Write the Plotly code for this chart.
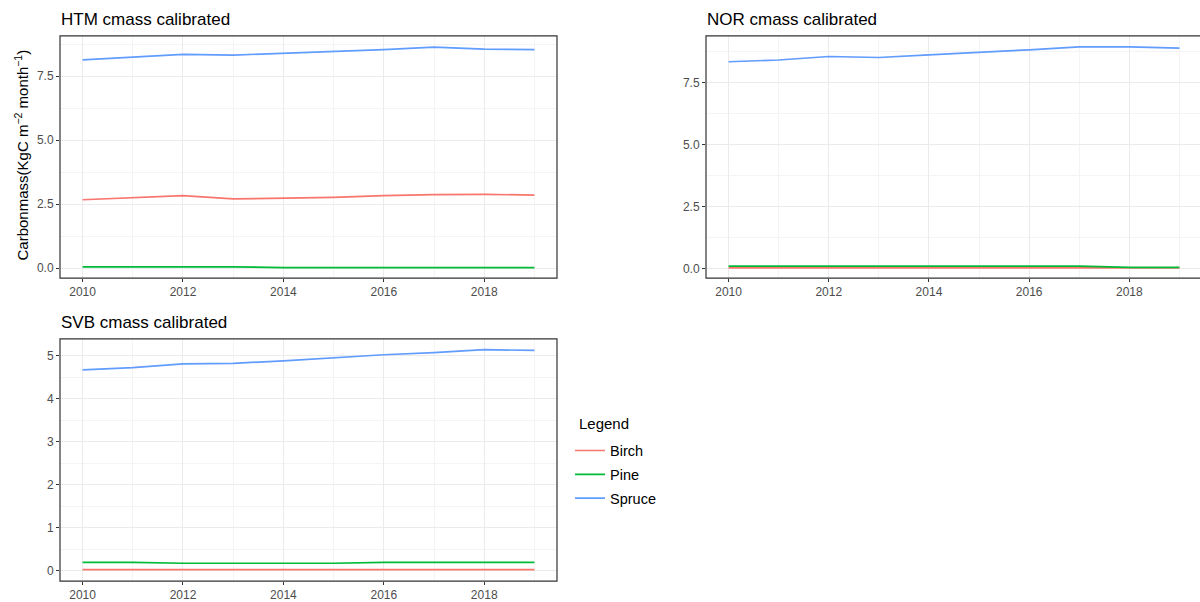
import plotly.graph_objects as go

# Annual carbon mass per site and species
years = [2010, 2011, 2012, 2013, 2014, 2015, 2016, 2017, 2018, 2019]
species = ["Birch", "Pine", "Spruce"]
colors = {"Birch": "#F8766D", "Pine": "#00BA38", "Spruce": "#619CFF"}

htm_birch = [2.67, 2.76, 2.83, 2.70, 2.74, 2.76, 2.83, 2.87, 2.88, 2.85]
htm_pine = [0.05, 0.05, 0.05, 0.05, 0.02, 0.02, 0.02, 0.02, 0.02, 0.02]
htm_spruce = [8.13, 8.24, 8.35, 8.32, 8.39, 8.48, 8.53, 8.63, 8.55, 8.53]

nor_birch = [0.04, 0.04, 0.04, 0.04, 0.04, 0.04, 0.04, 0.04, 0.04, 0.04]
nor_pine = [0.11, 0.11, 0.11, 0.11, 0.11, 0.11, 0.11, 0.11, 0.06, 0.06]
nor_spruce = [8.33, 8.40, 8.54, 8.50, 8.61, 8.70, 8.81, 8.93, 8.93, 8.88]

svb_birch = [0.02, 0.02, 0.02, 0.02, 0.02, 0.02, 0.02, 0.02, 0.02, 0.02]
svb_pine = [0.19, 0.19, 0.17, 0.17, 0.17, 0.17, 0.19, 0.19, 0.19, 0.19]
svb_spruce = [4.67, 4.72, 4.81, 4.82, 4.88, 4.95, 5.02, 5.07, 5.14, 5.12]

panels = [
    ("HTM cmass calibrated", {"Birch": htm_birch, "Pine": htm_pine, "Spruce": htm_spruce}),
    ("NOR cmass calibrated", {"Birch": nor_birch, "Pine": nor_pine, "Spruce": nor_spruce}),
    ("SVB cmass calibrated", {"Birch": svb_birch, "Pine": svb_pine, "Spruce": svb_spruce}),
]

W, H = 1200, 602
FONT = "Arial, Liberation Sans, sans-serif"

# panel boxes in pixels: left, right, top, bottom
boxes = [(60, 557, 36, 279), (706, 1202, 36, 279), (60, 557, 340, 583)]
yranges = [(-0.39, 9.07), (-0.37, 9.37), (-0.245, 5.39)]
ydticks = [2.5, 2.5, 1]
yfmt = [".1f", ".1f", "d"]

fig = go.Figure()
layout = {}
shapes = []
annotations = []

for i, ((title, data), box) in enumerate(zip(panels, boxes)):
    n = "" if i == 0 else str(i + 1)
    xa, ya = "x" + n, "y" + n
    l, r, t, b = box
    x0 = l / W
    x1 = min(r / W, 1.0)
    xr_hi = 2019.45 if r <= W else 2009.55 + (W - l) / (r - l) * 9.9
    for sp in species:
        fig.add_trace(go.Scatter(
            x=years, y=data[sp], mode="lines", name=sp,
            line=dict(color=colors[sp], width=1.7),
            xaxis=xa, yaxis=ya, legendgroup=sp, showlegend=(i == 0),
        ))
    layout["xaxis" + n] = dict(
        domain=[x0, x1], anchor=ya, range=[2009.55, xr_hi],
        tickmode="array", tickvals=[2010, 2012, 2014, 2016, 2018],
        ticks="outside", ticklen=3, tickcolor="#333333", tickwidth=1,
        tickfont=dict(family=FONT, size=12, color="#4d4d4d"),
        showgrid=True, gridcolor="#ebebeb", gridwidth=1,
        minor=dict(tickvals=[2011, 2013, 2015, 2017, 2019], showgrid=True,
                   gridcolor="#f4f4f4", gridwidth=1, ticks=""),
        zeroline=False, showline=False,
    )
    layout["yaxis" + n] = dict(
        domain=[1 - b / H, 1 - t / H], anchor=xa, range=list(yranges[i]),
        dtick=ydticks[i], tick0=0, tickformat=yfmt[i],
        ticks="outside", ticklen=3, tickcolor="#333333", tickwidth=1,
        tickfont=dict(family=FONT, size=12, color="#4d4d4d"),
        showgrid=True, gridcolor="#ebebeb", gridwidth=1,
        minor=dict(dtick=ydticks[i] / 2, tick0=0, showgrid=True,
                   gridcolor="#f4f4f4", gridwidth=1, ticks=""),
        zeroline=False, showline=False,
    )
    # panel border
    shapes.append(dict(type="rect", xref="paper", yref="paper",
                       x0=l / W, x1=r / W, y0=1 - b / H, y1=1 - t / H,
                       line=dict(color="#333333", width=1.2), layer="above"))
    annotations.append(dict(text=title, xref="paper", yref="paper",
                            x=(l - 1) / W, y=1 - (t - 5) / H, xanchor="left", yanchor="bottom",
                            showarrow=False, font=dict(family=FONT, size=17, color="#000000")))

annotations.append(dict(
    text="Carbonmass(KgC m<sup>\u22122</sup> month<sup>\u22121</sup>)",
    xref="paper", yref="paper", x=21 / W, y=1 - 156 / H, textangle=-90,
    xanchor="center", yanchor="middle", showarrow=False,
    font=dict(family=FONT, size=15, color="#000000")))

# legend heading
annotations.append(dict(text="Legend", xref="paper", yref="paper",
                        x=577 / W, y=1 - 425 / H, xanchor="left", yanchor="middle",
                        showarrow=False, font=dict(family=FONT, size=15, color="#000000")))

fig.update_layout(
    width=W, height=H, margin=dict(l=0, r=0, t=0, b=0),
    paper_bgcolor="white", plot_bgcolor="white",
    shapes=shapes, annotations=annotations,
    legend=dict(x=570 / W, y=1 - 436 / H, xanchor="left", yanchor="top",
                font=dict(family=FONT, size=14.5, color="#000000"),
                bgcolor="rgba(0,0,0,0)", itemwidth=30, tracegroupgap=2),
    **layout,
)

fig.write_html("out.html")
